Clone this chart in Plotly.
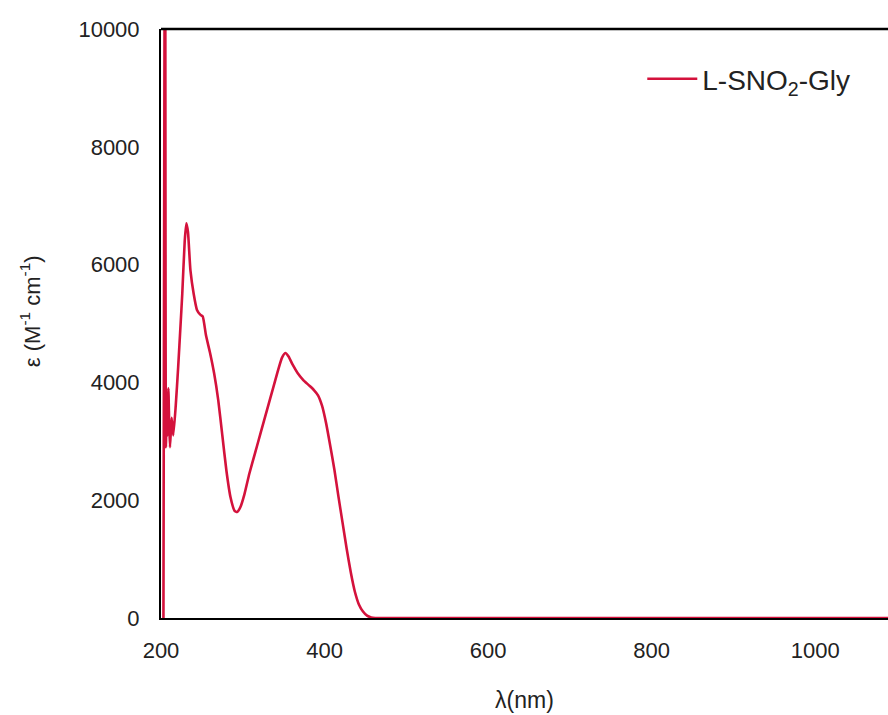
import plotly.graph_objects as go

wavelength = [203, 205, 206, 207, 208, 209, 210, 211, 213, 215, 218, 221, 224, 226, 229, 231,
              233, 236, 240, 244, 248, 251, 255, 260, 265, 270, 275, 280, 285, 290, 293, 297,
              302, 308, 315, 322, 330, 337, 343, 348, 352, 356, 361, 367, 374, 381, 387, 392,
              397, 402, 407, 412, 417, 422, 427, 432, 437, 442, 447, 452, 457, 462, 500, 600,
              700, 800, 900, 1000, 1089]
epsilon = [0, 14000, 2900, 3700, 3100, 3900, 3300, 2900, 3400, 3100, 3600, 4260, 5000, 5500,
           6400, 6700, 6550, 5900, 5500, 5230, 5150, 5120, 4800, 4500, 4150, 3700, 3100, 2500,
           2050, 1820, 1800, 1880, 2100, 2450, 2800, 3150, 3550, 3900, 4200, 4420, 4500, 4440,
           4300, 4160, 4040, 3950, 3870, 3780, 3600, 3300, 2920, 2520, 2060, 1620, 1180, 780,
           450, 230, 110, 40, 10, 0, 0, 0, 0, 0, 0, 0, 0]

x_ticks = [200, 400, 600, 800, 1000]
y_ticks = [0, 2000, 4000, 6000, 8000, 10000]
series_name = "L-SNO<sub>2</sub>-Gly"

fig = go.Figure()
fig.add_trace(go.Scatter(
    x=wavelength, y=epsilon, mode="lines", name=series_name,
    line=dict(color="#d4123c", width=2.6, shape="spline", smoothing=0.5),
))

font_family = "Liberation Sans, Arial, sans-serif"
txt = "#222222"

fig.update_layout(
    width=888, height=715,
    margin=dict(l=161, r=0, t=29, b=97),
    paper_bgcolor="white", plot_bgcolor="white",
    font=dict(family=font_family, color=txt),
    showlegend=True,
    legend=dict(
        x=0.662, y=0.915, xanchor="left", yanchor="middle",
        bgcolor="rgba(0,0,0,0)", font=dict(size=28, family=font_family, color=txt),
        itemwidth=50,
    ),
    xaxis=dict(
        range=[200, 1089], tickvals=x_ticks, ticktext=[str(v) for v in x_ticks],
        showgrid=False, zeroline=False, showline=True, linecolor="black", linewidth=2,
        ticks="outside", ticklen=12, tickcolor="rgba(0,0,0,0)", automargin=False,
        tickfont=dict(size=22, family=font_family, color=txt),
        title=dict(text="λ(nm)", font=dict(size=23, family=font_family, color=txt), standoff=29),
    ),
    yaxis=dict(
        range=[0, 10000], tickvals=y_ticks, ticktext=[str(v) for v in y_ticks],
        showgrid=False, zeroline=False, showline=True, linecolor="black", linewidth=2,
        ticks="outside", ticklen=15, tickcolor="rgba(0,0,0,0)", automargin=False,
        tickfont=dict(size=22, family=font_family, color=txt),
        title=dict(text="&nbsp;&nbsp;&nbsp;&nbsp;ε (M<sup>-1</sup> cm<sup>-1</sup>)",
                   font=dict(size=22, family=font_family, color=txt), standoff=32),
    ),
    shapes=[dict(type="line", xref="paper", yref="paper", x0=0, x1=1, y0=1, y1=1,
                 line=dict(color="black", width=2.5))],
)

fig.write_html("out.html", post_script="document.body.style.margin='0';",
               config={"displayModeBar": False})
